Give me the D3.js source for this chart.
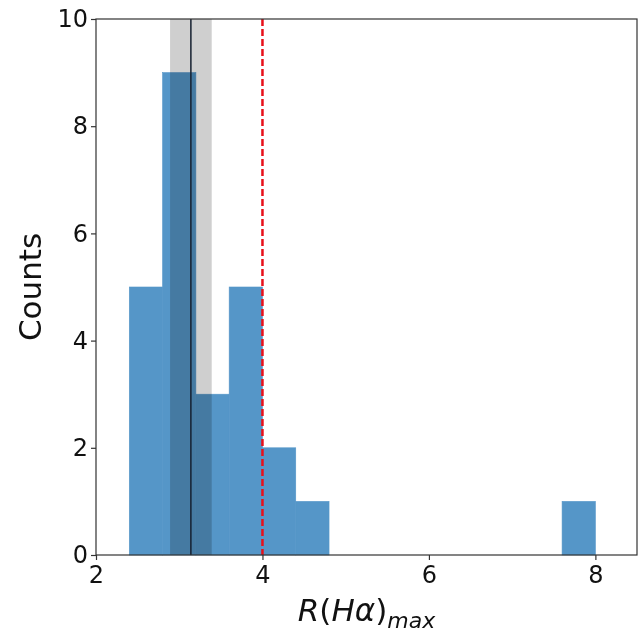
<!DOCTYPE html>
<html>
<head>
<meta charset="utf-8">
<script src="https://cdn.jsdelivr.net/npm/d3@7"></script>
<style>
  html, body { margin: 0; padding: 0; background: #fff; }
  svg { display: block; font-family: "DejaVu Sans", sans-serif; background: #fff; }
</style>
</head>
<body>
<svg id="chart" width="641" height="633"></svg>
<script>
// Histogram data
const binEdges = [2.4, 2.8, 3.2, 3.6, 4.0, 4.4, 4.8, 5.2, 5.6, 6.0, 6.4, 6.8, 7.2, 7.6, 8.0];
const counts   = [5, 9, 3, 5, 2, 1, 0, 0, 0, 0, 0, 0, 0, 1];
const xTicks = [2, 4, 6, 8];
const yTicks = [0, 2, 4, 6, 8, 10];
const meanValue = 3.14;
const bandRange = [2.89, 3.39];
const thresholdValue = 4.0;
const xDomain = [2, 8.5];
const yDomain = [0, 10];

const W = 641, H = 633;
const m = { left: 96, top: 19, right: 4, bottom: 78 };
const svg = d3.select("#chart");
svg.append("rect").attr("width", W).attr("height", H).attr("fill", "#fff");
const x = d3.scaleLinear().domain(xDomain).range([m.left, W - m.right]);
const y = d3.scaleLinear().domain(yDomain).range([H - m.bottom, m.top]);

const bars = counts.map((c, i) => ({ x0: binEdges[i], x1: binEdges[i + 1], c }));

// bars
svg.append("g")
  .selectAll("rect").data(bars.filter(d => d.c > 0)).join("rect")
  .attr("x", d => x(d.x0))
  .attr("width", d => x(d.x1) - x(d.x0))
  .attr("y", d => y(d.c))
  .attr("height", d => y(0) - y(d.c))
  .attr("fill", "#5596c8")
  .attr("stroke", "#5596c8")
  .attr("stroke-width", 0.6);

// gray band
svg.append("rect")
  .attr("x", x(bandRange[0]))
  .attr("width", x(bandRange[1]) - x(bandRange[0]))
  .attr("y", y(yDomain[1]))
  .attr("height", y(yDomain[0]) - y(yDomain[1]))
  .attr("fill", "rgb(207,207,207)")
  .style("mix-blend-mode", "multiply");

// mean line
svg.append("line")
  .attr("x1", x(meanValue)).attr("x2", x(meanValue))
  .attr("y1", y(yDomain[0])).attr("y2", y(yDomain[1]))
  .attr("stroke", "#152030").attr("stroke-width", 1.5);

// threshold dashed line
svg.append("line")
  .attr("x1", x(thresholdValue)).attr("x2", x(thresholdValue))
  .attr("y1", y(yDomain[1])).attr("y2", y(yDomain[0]))
  .attr("stroke", "#e8101a").attr("stroke-width", 2.5)
  .attr("stroke-dasharray", "7,3");

// axes
const xAxis = d3.axisBottom(x).tickValues(xTicks).tickSize(5).tickPadding(4).tickFormat(d3.format("d"));
const yAxis = d3.axisLeft(y).tickValues(yTicks).tickSize(5).tickPadding(3).tickFormat(d3.format("d"));

const gx = svg.append("g").attr("transform", `translate(0,${y(0)})`).call(xAxis);
const gy = svg.append("g").attr("transform", `translate(${m.left},0)`).call(yAxis);
[gx, gy].forEach(g => {
  g.select(".domain").remove();
  g.selectAll(".tick line").attr("stroke", "#333").attr("stroke-width", 1.2);
  g.selectAll(".tick text").attr("fill", "#111").style("font-size", "24px")
    .style("font-family", "'DejaVu Sans', sans-serif");
});
gx.selectAll(".tick text").attr("dy", "0.78em");

// frame
svg.append("rect")
  .attr("x", x(xDomain[0])).attr("y", y(yDomain[1]))
  .attr("width", x(xDomain[1]) - x(xDomain[0]))
  .attr("height", y(yDomain[0]) - y(yDomain[1]))
  .attr("fill", "none").attr("stroke", "#333").attr("stroke-width", 1.2);

// axis labels
const xl = svg.append("text")
  .attr("x", (x(xDomain[0]) + x(xDomain[1])) / 2)
  .attr("y", 621)
  .attr("text-anchor", "middle")
  .attr("fill", "#111")
  .style("font-size", "31px");
xl.append("tspan").attr("font-style", "italic").text("R");
xl.append("tspan").text("(");
xl.append("tspan").attr("font-style", "italic").text("Hα");
xl.append("tspan").text(")");
xl.append("tspan").attr("font-style", "italic").attr("dy", 7).style("font-size", "22px").text("max");

svg.append("text")
  .attr("transform", `translate(41,${(y(yDomain[0]) + y(yDomain[1])) / 2}) rotate(-90)`)
  .attr("text-anchor", "middle")
  .attr("fill", "#111")
  .style("font-size", "31px")
  .text("Counts");
</script>
</body>
</html>
